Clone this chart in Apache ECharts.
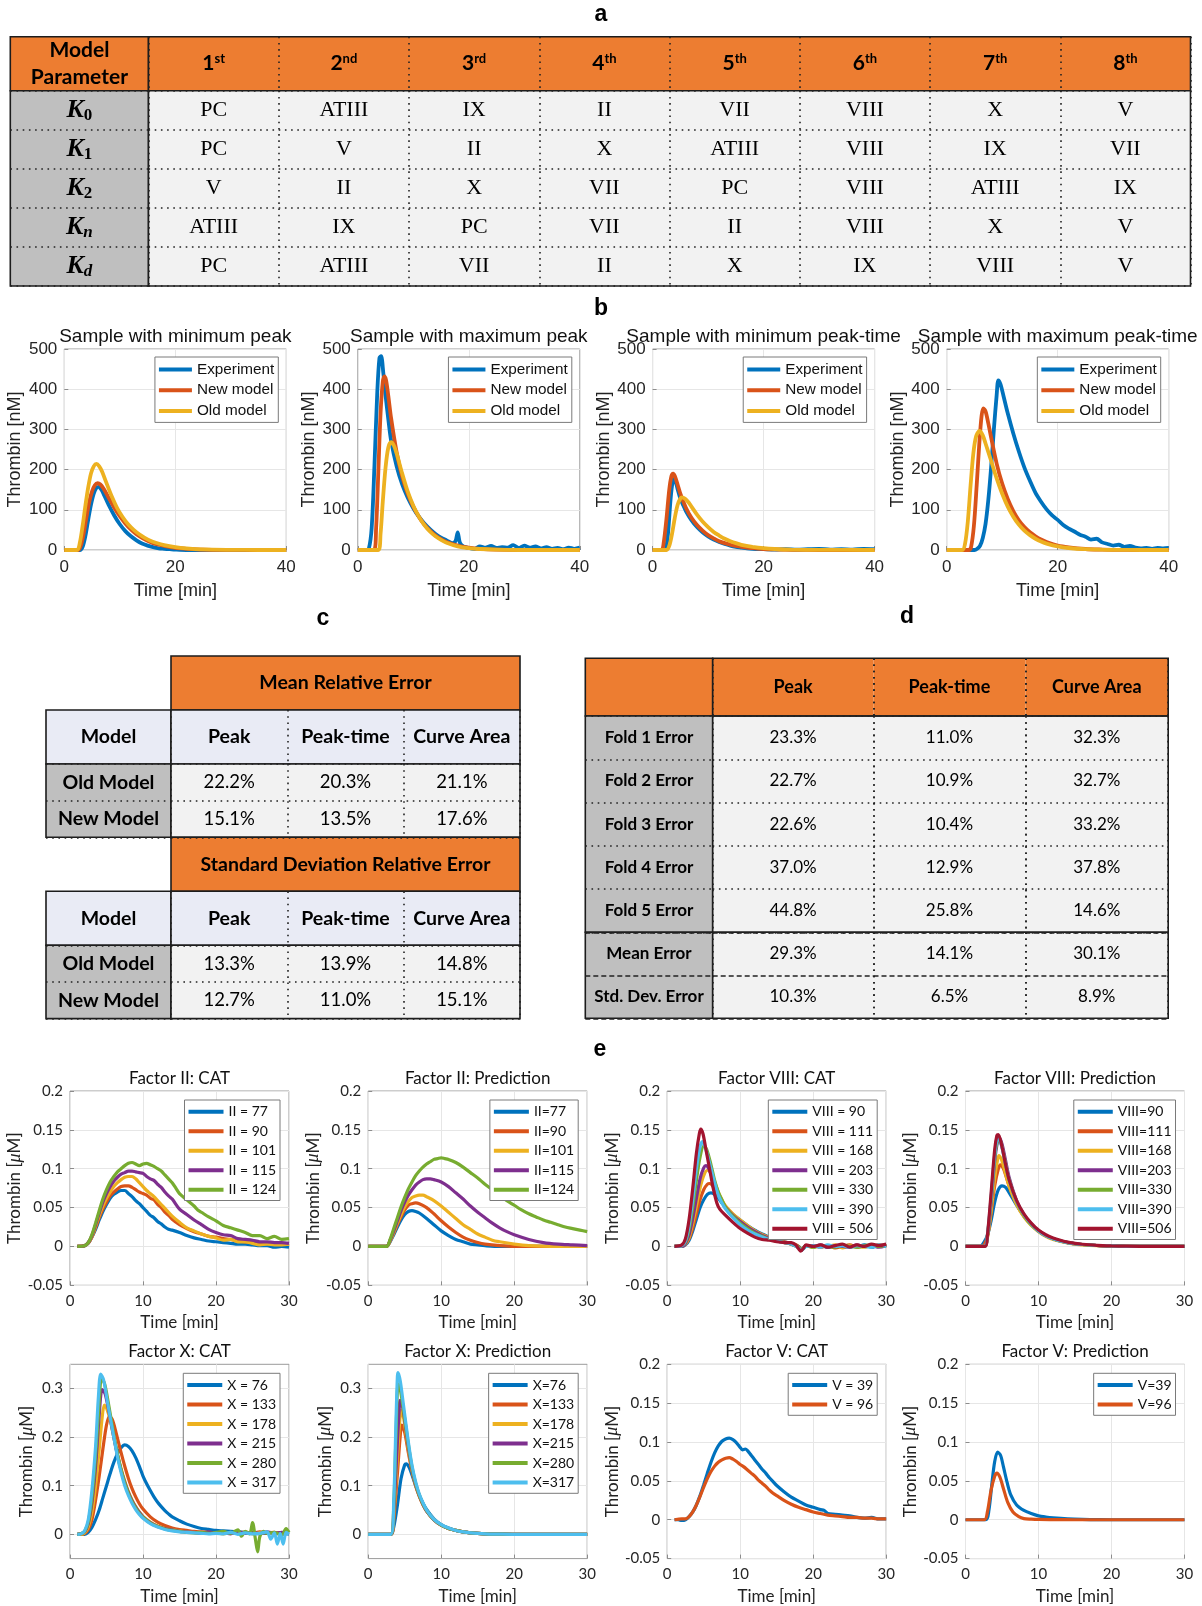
<!DOCTYPE html>
<html>
<head>
<meta charset="utf-8">
<title>Thrombin model figure</title>
<script src="https://cdn.jsdelivr.net/npm/echarts@6/dist/echarts.min.js"></script>
<style>
  html, body { margin: 0; padding: 0; background: #fff; }
  #main { width: 1202px; height: 1606px; }
</style>
</head>
<body>
<div id="main"></div>
<script>
// ---------- panel a : parameter ranking table ----------
var rankLabels = ['1st', '2nd', '3rd', '4th', '5th', '6th', '7th', '8th'];
var paramSubs = ['0', '1', '2', 'n', 'd'];
var orderK0 = ['PC', 'ATIII', 'IX', 'II', 'VII', 'VIII', 'X', 'V'];
var orderK1 = ['PC', 'V', 'II', 'X', 'ATIII', 'VIII', 'IX', 'VII'];
var orderK2 = ['V', 'II', 'X', 'VII', 'PC', 'VIII', 'ATIII', 'IX'];
var orderKn = ['ATIII', 'IX', 'PC', 'VII', 'II', 'VIII', 'X', 'V'];
var orderKd = ['PC', 'ATIII', 'VII', 'II', 'X', 'IX', 'VIII', 'V'];

// ---------- panel b : sample curves (time min, thrombin nM) ----------
var minPeakExp = [[0,0],[1,0],[2,0],[2.8,0],[3.3,8],[3.8,35],[4.3,75],[4.8,112],[5.3,140],[5.8,155],[6.2,157],[6.7,150],[7.2,136],[8,112],[9,86],[10,64],[11,47],[12,34],[13,24],[14,16],[15,11],[16,7],[17,4],[18,3],[19,2],[20,1],[22,0],[25,0],[30,0],[35,0],[40,0]];
var minPeakNew = [[0,0],[2.5,0],[3,12],[3.5,42],[4,82],[4.5,120],[5,146],[5.5,161],[6,166],[6.5,163],[7,154],[8,130],[9,105],[10,84],[11,66],[12,51],[13,39],[14,30],[15,23],[16,17],[17,13],[18,10],[20,5],[22,3],[25,1],[30,0.3],[35,0],[40,0]];
var minPeakOld = [[0,0],[2.3,0],[2.8,18],[3.3,60],[3.8,110],[4.3,155],[4.8,190],[5.3,208],[5.8,214],[6.3,208],[6.8,195],[7.5,170],[8.5,135],[9.5,105],[10.5,82],[11.5,64],[12.5,50],[13.5,39],[14.5,30],[15.5,23],[16.5,18],[18,12],[20,7],[22,4],[25,1.5],[30,0.4],[35,0],[40,0]];

var maxPeakExp = [[0,0],[1.5,0],[2,4],[2.5,55],[3,210],[3.5,390],[3.9,478],[4.2,482],[4.6,440],[5,385],[5.5,325],[6,272],[7,208],[8,163],[9,130],[10,104],[11,83],[12,66],[13,52],[14,40],[15,31],[16,24],[17,17],[17.6,22],[18,44],[18.4,18],[19,9],[20,5],[21,3],[22,9],[23,6],[24,10],[25,5],[26,7],[27,6],[28,12],[29,5],[30,11],[31,6],[32,9],[33,4],[34,7],[35,3],[36,5],[37,2],[38,6],[39,3],[40,6]];
var maxPeakNew = [[0,0],[2.9,0],[3.3,55],[3.7,195],[4.1,340],[4.5,418],[4.8,432],[5.1,422],[5.5,383],[6,328],[7,243],[8,182],[9,140],[10,108],[11,83],[12,63],[13,48],[14,36],[15,27],[16,20],[18,11],[20,6],[22,3],[25,1],[30,0],[40,0]];
var maxPeakOld = [[0,0],[3.7,0],[4.1,40],[4.5,120],[5,205],[5.5,255],[6,268],[6.5,260],[7,240],[8,190],[9,145],[10,110],[11,83],[12,62],[13,46],[14,34],[15,25],[16,18],[18,9],[20,4.5],[22,2.5],[25,1],[30,0],[40,0]];

var minTimeExp = [[0,0],[2,0],[2.4,3],[2.8,45],[3.2,120],[3.5,160],[3.8,178],[4.1,172],[4.5,152],[5,128],[5.5,112],[6,97],[7,74],[8,57],[9,44],[10,34],[11,26],[12,20],[13,15],[14,11],[15,8],[16,6],[17,4],[18,3],[20,2],[22,1],[24,2],[26,1],[28,2],[30,3],[32,1],[34,2],[36,1],[38,3],[40,2]];
var minTimeNew = [[0,0],[1.6,0],[2,18],[2.5,78],[3,150],[3.4,184],[3.7,190],[4,184],[4.5,163],[5,140],[6,105],[7,80],[8,62],[9,48],[10,37],[11,29],[12,22],[13,17],[14,13],[15,10],[16,8],[18,4.5],[20,2.5],[22,1.5],[25,0.5],[30,0],[40,0]];
var minTimeOld = [[0,0],[2.5,0],[3,10],[3.5,40],[4,80],[4.5,112],[5,128],[5.3,131],[5.8,128],[6.5,118],[7,108],[8,88],[9,71],[10,57],[11,45],[12,36],[13,28],[14,22],[15,17],[16,13],[18,8],[20,4.5],[22,2.5],[25,1],[30,0.3],[40,0]];

var maxTimeExp = [[0,0],[2,0],[4,0],[5,0],[5.5,3],[6,10],[6.5,30],[7,65],[7.5,125],[8,205],[8.5,300],[9,385],[9.3,422],[9.7,412],[10.2,385],[11,340],[12,290],[13,245],[14,205],[15,172],[16,142],[17,120],[18,101],[19,86],[20,75],[21,62],[22,53],[23,46],[24,38],[25,33],[26,26],[27,28],[28,19],[29,15],[30,11],[31,13],[32,8],[33,10],[34,6],[35,4],[36,5],[37,3],[38,5],[39,4],[40,5]];
var maxTimeNew = [[0,0],[4,0],[4.4,8],[4.9,60],[5.4,160],[5.9,270],[6.3,335],[6.6,352],[7,345],[7.5,315],[8,280],[9,215],[10,165],[11,127],[12,97],[13,74],[14,57],[15,44],[16,34],[17,26],[18,20],[20,11],[22,6.5],[25,2.5],[28,1],[30,0.5],[35,0],[40,0]];
var maxTimeOld = [[0,0],[2.8,0],[3.3,15],[3.8,70],[4.3,160],[4.8,240],[5.3,283],[5.9,296],[6.5,285],[7,265],[8,222],[9,178],[10,140],[11,108],[12,83],[13,63],[14,48],[15,37],[16,28],[17,21],[18,16],[20,9],[22,5],[25,2],[28,0.8],[30,0.4],[35,0],[40,0]];

// ---------- panel c : relative errors ----------
var metricNames = ['Peak', 'Peak-time', 'Curve Area'];
var modelNames = ['Old Model', 'New Model'];
var meanErrOld = [22.2, 20.3, 21.1];
var meanErrNew = [15.1, 13.5, 17.6];
var stdErrOld = [13.3, 13.9, 14.8];
var stdErrNew = [12.7, 11.0, 15.1];

// ---------- panel d : cross validation ----------
var foldNames = ['Fold 1 Error', 'Fold 2 Error', 'Fold 3 Error', 'Fold 4 Error', 'Fold 5 Error'];
var foldPeak = [23.3, 22.7, 22.6, 37.0, 44.8];
var foldPeakTime = [11.0, 10.9, 10.4, 12.9, 25.8];
var foldArea = [32.3, 32.7, 33.2, 37.8, 14.6];
var summaryNames = ['Mean Error', 'Std. Dev. Error'];
var summaryPeak = [29.3, 10.3];
var summaryPeakTime = [14.1, 6.5];
var summaryArea = [30.1, 8.9];

// ---------- panel e : factor variation (time min, thrombin uM) ----------
var f2Names = ['77', '90', '101', '115', '124'];
var f2Cat77 = [[1,0],[1.5,0],[2,0.001],[2.5,0.004],[3,0.012],[3.5,0.022],[4,0.034],[4.5,0.045],[5,0.054],[5.5,0.062],[6,0.067],[6.5,0.07],[7,0.072],[7.5,0.072],[8,0.068],[8.5,0.064],[9,0.059],[9.5,0.055],[10,0.05],[10.5,0.045],[11,0.04],[11.5,0.037],[12,0.032],[12.5,0.029],[13,0.025],[13.5,0.022],[14,0.021],[15,0.018],[16,0.014],[17,0.011],[18,0.009],[19,0.007],[20,0.006],[21,0.005],[22,0.004],[23,0.003],[24,0.003],[25,0.002],[26,0.001],[27,0.001],[28,-0.001],[29,0],[30,-0.001]];
var f2Cat90 = [[1,0],[2,0.001],[2.5,0.004],[3,0.012],[3.5,0.024],[4,0.037],[4.5,0.048],[5,0.057],[5.5,0.065],[6,0.07],[6.5,0.074],[7,0.077],[7.5,0.078],[8,0.078],[8.5,0.076],[9,0.073],[9.5,0.07],[10,0.068],[10.5,0.066],[11,0.062],[11.5,0.06],[12,0.054],[12.5,0.05],[13,0.044],[13.5,0.04],[14,0.035],[15,0.028],[16,0.023],[17,0.019],[18,0.016],[19,0.013],[20,0.012],[21,0.01],[22,0.009],[23,0.007],[24,0.006],[25,0.006],[26,0.004],[27,0.004],[28,0.003],[29,0.003],[30,0.004]];
var f2Cat101 = [[1,0],[2,0.001],[2.5,0.005],[3,0.013],[3.5,0.026],[4,0.04],[4.5,0.052],[5,0.062],[5.5,0.07],[6,0.077],[6.5,0.082],[7,0.086],[7.5,0.089],[8,0.09],[8.5,0.09],[9,0.087],[9.5,0.082],[10,0.077],[10.5,0.072],[11,0.068],[11.5,0.064],[12,0.059],[12.5,0.054],[13,0.049],[13.5,0.044],[14,0.039],[15,0.031],[16,0.024],[17,0.02],[18,0.016],[19,0.013],[20,0.011],[21,0.008],[22,0.009],[23,0.006],[24,0.006],[25,0.004],[26,0.002],[27,0.003],[28,0.002],[29,0.002],[30,0.003]];
var f2Cat115 = [[1,0],[2,0.001],[2.5,0.005],[3,0.014],[3.5,0.028],[4,0.043],[4.5,0.057],[5,0.068],[5.5,0.077],[6,0.084],[6.5,0.089],[7,0.093],[7.5,0.095],[8,0.097],[8.5,0.097],[9,0.096],[9.5,0.095],[10,0.094],[10.5,0.09],[11,0.087],[11.5,0.085],[12,0.08],[12.5,0.076],[13,0.07],[13.5,0.065],[14,0.061],[15,0.048],[16,0.041],[17,0.034],[18,0.028],[19,0.022],[20,0.018],[21,0.015],[22,0.014],[23,0.01],[24,0.009],[25,0.008],[26,0.006],[27,0.006],[28,0.005],[29,0.005],[30,0.004]];
var f2Cat124 = [[1,0],[2,0.001],[2.5,0.005],[3,0.015],[3.5,0.03],[4,0.046],[4.5,0.061],[5,0.073],[5.5,0.083],[6,0.09],[6.5,0.096],[7,0.1],[7.5,0.104],[8,0.107],[8.5,0.108],[9,0.106],[9.5,0.104],[10,0.106],[10.5,0.107],[11,0.105],[11.5,0.103],[12,0.1],[12.5,0.097],[13,0.092],[13.5,0.087],[14,0.082],[14.5,0.075],[15,0.068],[16,0.06],[17,0.052],[17.5,0.047],[18,0.044],[19,0.038],[20,0.033],[21,0.027],[22,0.024],[23,0.021],[24,0.018],[25,0.014],[26,0.014],[27,0.01],[28,0.013],[29,0.009],[30,0.01]];
var f2Pred77 = [[0,0],[2.5,0],[3,0.006],[3.5,0.015],[4,0.025],[4.5,0.034],[5,0.041],[5.5,0.045],[6,0.046],[6.5,0.045],[7,0.043],[8,0.036],[9,0.028],[10,0.02],[11,0.014],[12,0.009],[13,0.006],[14,0.003],[15,0.002],[16,0.001],[18,0],[20,0],[25,0],[30,0]];
var f2Pred90 = [[0,0],[2.5,0],[3,0.007],[3.5,0.017],[4,0.028],[4.5,0.038],[5,0.047],[5.5,0.053],[6,0.055],[6.5,0.056],[7,0.055],[8,0.05],[9,0.042],[10,0.033],[11,0.025],[12,0.018],[13,0.012],[14,0.008],[15,0.005],[16,0.003],[18,0.001],[20,0],[25,0],[30,0]];
var f2Pred101 = [[0,0],[2.5,0],[3,0.007],[3.5,0.018],[4,0.03],[4.5,0.041],[5,0.051],[5.5,0.058],[6,0.063],[6.5,0.065],[7,0.066],[7.5,0.066],[8,0.064],[9,0.059],[10,0.052],[11,0.044],[12,0.036],[13,0.028],[14,0.022],[15,0.016],[16,0.012],[17,0.008],[18,0.006],[20,0.003],[22,0.001],[25,0],[30,0]];
var f2Pred115 = [[0,0],[2.5,0],[3,0.008],[3.5,0.02],[4,0.033],[4.5,0.046],[5,0.057],[5.5,0.066],[6,0.073],[6.5,0.079],[7,0.083],[7.5,0.086],[8,0.087],[8.5,0.087],[9,0.086],[10,0.083],[11,0.077],[12,0.069],[13,0.061],[14,0.052],[15,0.044],[16,0.037],[17,0.03],[18,0.024],[19,0.019],[20,0.015],[22,0.009],[24,0.005],[26,0.003],[28,0.002],[30,0.001]];
var f2Pred124 = [[0,0],[2.5,0],[3,0.009],[3.5,0.023],[4,0.037],[4.5,0.051],[5,0.063],[5.5,0.074],[6,0.083],[6.5,0.091],[7,0.097],[7.5,0.102],[8,0.106],[8.5,0.109],[9,0.112],[9.5,0.113],[10,0.114],[10.5,0.113],[11,0.112],[12,0.108],[13,0.102],[14,0.095],[15,0.088],[16,0.08],[17,0.073],[18,0.066],[19,0.059],[20,0.053],[21,0.047],[22,0.042],[23,0.038],[24,0.034],[25,0.031],[26,0.028],[27,0.025],[28,0.023],[29,0.021],[30,0.019]];

var f8Names = ['90', '111', '168', '203', '330', '390', '506'];
var f8Cat90 = [[1,0],[2,0],[2.5,0.002],[3,0.008],[3.5,0.02],[4,0.035],[4.5,0.05],[5,0.06],[5.5,0.067],[6,0.069],[6.5,0.067],[7,0.062],[7.5,0.056],[8,0.05],[9,0.041],[10,0.034],[11,0.027],[12,0.021],[13,0.016],[14,0.012],[15,0.008],[16,0.006],[17,0.004],[17.5,0.002],[18,0],[18.4,-0.003],[19,0.001],[20,0],[21,0.001],[22,-0.001],[23,0.001],[24,-0.001],[25,0.001],[26,0],[27,0.002],[28,-0.001],[29,0.001],[30,0]];
var f8Cat111 = [[1,0],[2,0],[2.5,0.003],[3,0.01],[3.5,0.024],[4,0.042],[4.5,0.06],[5,0.073],[5.5,0.08],[5.8,0.081],[6.3,0.077],[7,0.066],[7.5,0.058],[8,0.051],[9,0.041],[10,0.033],[11,0.026],[12,0.02],[13,0.015],[14,0.011],[15,0.008],[16,0.006],[17,0.004],[17.5,0.003],[18,0],[18.4,-0.004],[19,0],[20,0.001],[21,-0.001],[22,0.001],[23,-0.002],[24,0],[25,0.002],[26,-0.001],[27,0.001],[28,0],[29,0.002],[30,0.001]];
var f8Cat168 = [[1,0],[2,0],[2.5,0.003],[3,0.012],[3.5,0.03],[4,0.052],[4.5,0.075],[5,0.091],[5.5,0.098],[5.8,0.097],[6.3,0.088],[7,0.07],[7.5,0.06],[8,0.052],[9,0.042],[10,0.034],[11,0.027],[12,0.02],[13,0.015],[14,0.011],[15,0.008],[16,0.005],[17,0.003],[18,-0.001],[18.4,-0.004],[19,0.001],[20,-0.001],[21,0.001],[22,0],[23,0.002],[24,-0.002],[25,0.001],[26,0],[27,-0.001],[28,0.001],[29,0],[30,0.002]];
var f8Cat203 = [[1,0],[2,0],[2.5,0.004],[3,0.015],[3.5,0.036],[4,0.062],[4.5,0.087],[5,0.101],[5.3,0.104],[5.7,0.1],[6.2,0.087],[7,0.068],[7.5,0.058],[8,0.05],[9,0.04],[10,0.032],[11,0.025],[12,0.019],[13,0.014],[14,0.01],[15,0.007],[16,0.005],[17,0.003],[18,-0.001],[18.4,-0.005],[19,0.001],[20,0],[21,0.002],[22,-0.001],[23,0.001],[24,0],[25,-0.001],[26,0.002],[27,0],[28,0.001],[29,-0.001],[30,0.001]];
var f8Cat330 = [[1,0],[2,0.001],[2.5,0.006],[3,0.022],[3.5,0.05],[4,0.085],[4.5,0.115],[5,0.129],[5.4,0.125],[6,0.105],[6.5,0.085],[7,0.07],[7.5,0.06],[8,0.05],[9,0.039],[10,0.03],[11,0.023],[12,0.017],[13,0.013],[14,0.009],[15,0.007],[16,0.005],[17,0.003],[18,-0.001],[18.4,-0.005],[19,0.001],[20,-0.001],[21,0.001],[22,0],[23,-0.001],[24,0.002],[25,0],[26,-0.001],[27,0.001],[28,0.002],[29,0],[30,0.001]];
var f8Cat390 = [[1,0],[2,0.001],[2.5,0.007],[3,0.027],[3.5,0.06],[4,0.1],[4.5,0.128],[4.8,0.135],[5.2,0.128],[6,0.1],[6.5,0.082],[7,0.066],[7.5,0.056],[8,0.048],[9,0.037],[10,0.028],[11,0.021],[12,0.016],[13,0.012],[14,0.009],[15,0.007],[16,0.005],[17,0.003],[18,-0.002],[18.4,-0.005],[19,0],[20,0.001],[21,-0.001],[22,0.002],[23,0],[24,0.001],[25,-0.001],[26,0.001],[27,0],[28,-0.001],[29,0.002],[30,0]];
var f8Cat506 = [[1,0],[2,0.002],[2.5,0.01],[3,0.035],[3.5,0.075],[4,0.12],[4.4,0.145],[4.6,0.151],[4.9,0.145],[5.3,0.125],[5.8,0.1],[6.3,0.075],[6.8,0.056],[7.2,0.048],[8,0.04],[9,0.031],[10,0.023],[11,0.017],[12,0.012],[13,0.009],[14,0.008],[15,0.006],[16,0.005],[17,0.005],[17.6,0.002],[18,-0.003],[18.3,-0.006],[18.7,-0.002],[19,0.002],[20,0],[21,0.002],[22,-0.001],[23,0.001],[24,0.003],[25,-0.001],[26,0.002],[27,0],[28,0.003],[29,0.001],[30,0.003]];
var f8Pred90 = [[0,0],[2,0],[2.5,0.005],[3,0.014],[3.5,0.033],[4,0.057],[4.5,0.073],[5,0.078],[5.5,0.076],[6,0.069],[7,0.053],[8,0.039],[9,0.028],[10,0.02],[11,0.014],[12,0.01],[13,0.007],[14,0.005],[15,0.0035],[16,0.0025],[18,0.0012],[20,0.0006],[22,0.0002],[25,0],[30,0]];
var f8Pred111 = [[0,0],[2.3,0],[2.7,0.005],[3,0.012],[3.5,0.042],[4,0.078],[4.5,0.1],[4.8,0.105],[5.2,0.1],[6,0.077],[7,0.055],[8,0.039],[9,0.028],[10,0.02],[11,0.014],[12,0.01],[13,0.007],[14,0.005],[15,0.0035],[16,0.0025],[18,0.0012],[20,0.0006],[22,0.0002],[25,0],[30,0]];
var f8Pred168 = [[0,0],[2.6,0],[3,0.011],[3.5,0.045],[4,0.088],[4.4,0.112],[4.6,0.117],[5,0.11],[5.5,0.093],[6,0.077],[7,0.054],[8,0.038],[9,0.027],[10,0.019],[11,0.013],[12,0.009],[13,0.0065],[14,0.0045],[15,0.003],[16,0.002],[18,0.001],[20,0.0005],[22,0.0002],[25,0],[30,0]];
var f8Pred203 = [[0,0],[2.6,0],[3,0.013],[3.5,0.055],[4,0.11],[4.4,0.136],[4.6,0.14],[5,0.132],[5.5,0.11],[6,0.088],[7,0.059],[8,0.041],[9,0.029],[10,0.02],[11,0.014],[12,0.01],[13,0.007],[14,0.005],[15,0.0035],[16,0.0025],[18,0.0012],[20,0.0006],[22,0.0002],[25,0],[30,0]];
var f8Pred330 = [[0,0],[2.6,0],[3,0.014],[3.5,0.06],[4,0.115],[4.4,0.138],[4.6,0.139],[5,0.128],[5.5,0.106],[6,0.085],[7,0.058],[8,0.04],[9,0.028],[10,0.02],[11,0.014],[12,0.01],[13,0.007],[14,0.005],[15,0.0035],[16,0.0025],[18,0.0012],[20,0.0006],[22,0.0002],[25,0],[30,0]];
var f8Pred390 = [[0,0],[2.6,0],[3,0.015],[3.5,0.063],[4,0.118],[4.3,0.137],[4.5,0.14],[5,0.127],[5.5,0.105],[6,0.085],[7,0.058],[8,0.041],[9,0.029],[10,0.02],[11,0.014],[12,0.01],[13,0.007],[14,0.005],[15,0.0035],[16,0.0025],[18,0.0012],[20,0.0006],[22,0.0002],[25,0],[30,0]];
var f8Pred506 = [[0,0],[2.7,0],[3,0.014],[3.5,0.068],[4,0.125],[4.3,0.143],[4.5,0.144],[5,0.128],[5.5,0.105],[6,0.085],[7,0.059],[8,0.042],[9,0.03],[10,0.021],[11,0.015],[12,0.011],[13,0.008],[14,0.0055],[15,0.004],[16,0.0028],[18,0.0014],[20,0.0007],[22,0.0003],[25,0],[30,0]];

var f10Names = ['76', '133', '178', '215', '280', '317'];
var f10Cat76 = [[1,0],[1.5,0],[2,0],[2.5,0.004],[3,0.014],[3.5,0.03],[4,0.05],[4.5,0.075],[5,0.1],[5.5,0.125],[6,0.148],[6.5,0.166],[7,0.178],[7.5,0.184],[8,0.181],[8.5,0.172],[9,0.158],[9.5,0.14],[10,0.12],[10.5,0.104],[11,0.09],[11.5,0.077],[12,0.066],[12.5,0.057],[13,0.049],[13.5,0.042],[14,0.036],[15,0.028],[16,0.021],[17,0.016],[18,0.012],[19,0.01],[20,0.008],[21,0.007],[22,0.006],[23,0.005],[24,0.004],[25,0.003],[26,0.003],[27,0.002],[28,0.002],[29,0.001],[30,0.001]];
var f10Cat133 = [[1,0],[1.5,0],[2,0.002],[2.5,0.01],[3,0.03],[3.5,0.07],[4,0.12],[4.5,0.175],[5,0.225],[5.4,0.243],[5.8,0.236],[6.3,0.21],[7,0.168],[7.5,0.14],[8,0.115],[8.5,0.094],[9,0.077],[9.5,0.063],[10,0.052],[11,0.036],[12,0.025],[13,0.018],[14,0.013],[15,0.01],[16,0.008],[17,0.006],[18,0.005],[19,0.004],[20,0.003],[21,0.004],[22,0.002],[23,0.004],[24,0.003],[25,0.002],[26,0.005],[27,0.003],[28,0.004],[29,0.002],[30,0.003]];
var f10Cat178 = [[1,0],[1.5,0],[2,0.003],[2.5,0.015],[3,0.045],[3.5,0.1],[4,0.175],[4.4,0.24],[4.7,0.266],[5,0.26],[5.5,0.235],[6,0.2],[6.5,0.165],[7,0.135],[7.5,0.11],[8,0.088],[8.5,0.071],[9,0.057],[9.5,0.046],[10,0.037],[11,0.025],[12,0.017],[13,0.012],[14,0.009],[15,0.007],[16,0.005],[17,0.004],[18,0.002],[19,0.004],[20,0.003],[21,0.001],[22,0.004],[23,0.002],[24,0.005],[25,0.001],[26,0.003],[27,0.004],[28,0.001],[29,0.003],[30,0.002]];
var f10Cat215 = [[1,0],[1.5,0.001],[2,0.005],[2.5,0.022],[3,0.065],[3.5,0.14],[4,0.245],[4.4,0.298],[4.8,0.29],[5.3,0.255],[6,0.2],[6.5,0.163],[7,0.132],[7.5,0.107],[8,0.086],[8.5,0.069],[9,0.056],[9.5,0.045],[10,0.036],[11,0.024],[12,0.016],[13,0.012],[14,0.009],[15,0.006],[16,0.005],[17,0.004],[18,0.002],[19,0.005],[20,0.002],[21,0.004],[22,0.001],[23,0.005],[24,0.002],[25,0.004],[26,0.001],[27,0.005],[28,0.002],[29,0.004],[30,0.002]];
var f10Cat280 = [[1,0],[1.5,0.001],[2,0.006],[2.5,0.025],[3,0.075],[3.5,0.16],[4,0.27],[4.3,0.32],[4.7,0.312],[5.2,0.275],[6,0.205],[6.5,0.165],[7,0.132],[7.5,0.105],[8,0.084],[8.5,0.067],[9,0.054],[9.5,0.043],[10,0.035],[11,0.023],[12,0.016],[13,0.011],[14,0.008],[15,0.006],[16,0.004],[17,0.003],[18,0.004],[19,0.002],[20,0.004],[21,0.006],[22,0.002],[23,0.009],[23.5,-0.004],[24,0.006],[24.6,0.001],[25,0.024],[25.4,-0.01],[25.7,-0.036],[26,-0.005],[26.5,0.006],[27,0.002],[28,0.004],[29,-0.002],[29.6,0.012],[30,0.004]];
var f10Cat317 = [[1,0],[1.5,0.001],[2,0.007],[2.5,0.03],[3,0.09],[3.5,0.18],[3.9,0.285],[4.2,0.33],[4.6,0.318],[5.1,0.275],[6,0.2],[6.5,0.16],[7,0.127],[7.5,0.1],[8,0.08],[8.5,0.064],[9,0.051],[9.5,0.041],[10,0.033],[11,0.022],[12,0.015],[13,0.01],[14,0.007],[15,0.005],[16,0.004],[17,0.003],[18,0.002],[19,0.001],[20,0.002],[21,0.001],[22,0.004],[23,0],[24,0.003],[25,0.001],[26,0.002],[27,0.005],[27.5,-0.01],[28,0.003],[28.4,-0.02],[28.8,0.002],[29.2,-0.02],[29.6,0.004],[30,0]];
var f10Pred76 = [[0,0],[3.1,0],[3.5,0.015],[4,0.06],[4.5,0.115],[5,0.143],[5.2,0.145],[5.6,0.138],[6,0.122],[6.5,0.1],[7,0.08],[7.5,0.064],[8,0.051],[9,0.032],[10,0.02],[11,0.013],[12,0.008],[13,0.005],[14,0.003],[16,0.001],[18,0.0004],[20,0],[25,0],[30,0]];
var f10Pred133 = [[0,0],[3.1,0],[3.5,0.03],[4,0.125],[4.4,0.205],[4.6,0.225],[5,0.21],[5.5,0.168],[6,0.13],[6.5,0.1],[7,0.078],[7.5,0.061],[8,0.048],[9,0.03],[10,0.019],[11,0.012],[12,0.008],[13,0.005],[14,0.003],[16,0.001],[18,0.0004],[20,0],[25,0],[30,0]];
var f10Pred178 = [[0,0],[3.1,0],[3.5,0.04],[4,0.16],[4.4,0.25],[4.5,0.255],[4.9,0.235],[5.5,0.175],[6,0.133],[6.5,0.102],[7,0.079],[7.5,0.062],[8,0.048],[9,0.03],[10,0.019],[11,0.012],[12,0.008],[13,0.005],[14,0.003],[16,0.001],[18,0.0004],[20,0],[25,0],[30,0]];
var f10Pred215 = [[0,0],[3.1,0],[3.5,0.05],[4,0.19],[4.3,0.27],[4.4,0.276],[4.8,0.255],[5.5,0.18],[6,0.135],[6.5,0.103],[7,0.08],[7.5,0.062],[8,0.048],[9,0.03],[10,0.019],[11,0.012],[12,0.008],[13,0.005],[14,0.003],[16,0.001],[18,0.0004],[20,0],[25,0],[30,0]];
var f10Pred280 = [[0,0],[3.1,0],[3.5,0.06],[3.8,0.2],[4.1,0.31],[4.3,0.305],[4.7,0.27],[5.5,0.185],[6,0.138],[6.5,0.105],[7,0.081],[7.5,0.063],[8,0.049],[9,0.03],[10,0.019],[11,0.012],[12,0.008],[13,0.005],[14,0.003],[16,0.001],[18,0.0004],[20,0],[25,0],[30,0]];
var f10Pred317 = [[0,0],[3.1,0],[3.5,0.07],[3.8,0.23],[4,0.325],[4.1,0.333],[4.4,0.315],[4.8,0.27],[5.5,0.19],[6,0.142],[6.5,0.108],[7,0.083],[7.5,0.065],[8,0.05],[9,0.031],[10,0.02],[11,0.013],[12,0.008],[13,0.005],[14,0.003],[16,0.001],[18,0.0004],[20,0],[25,0],[30,0]];

var f5Names = ['39', '96'];
var f5Cat39 = [[1,0],[1.5,0],[2,-0.001],[2.5,0],[3,0.004],[3.5,0.01],[4,0.019],[4.5,0.031],[5,0.045],[5.5,0.06],[6,0.074],[6.5,0.086],[7,0.095],[7.5,0.101],[8,0.104],[8.5,0.105],[9,0.103],[9.5,0.099],[10,0.093],[10.3,0.09],[10.7,0.091],[11,0.089],[11.5,0.083],[12,0.077],[12.5,0.071],[13,0.065],[13.5,0.06],[14,0.054],[14.5,0.049],[15,0.044],[16,0.036],[17,0.029],[18,0.024],[19,0.019],[20,0.016],[21,0.013],[21.5,0.012],[22,0.008],[23,0.007],[24,0.006],[25,0.005],[26,0.003],[27,0.002],[28,0.003],[29,0.001],[30,0.001]];
var f5Cat96 = [[1,0],[2,0.001],[2.5,0.001],[3,0.004],[3.5,0.01],[4,0.019],[4.5,0.03],[5,0.042],[5.5,0.053],[6,0.062],[6.5,0.069],[7,0.074],[7.5,0.077],[8,0.079],[8.5,0.08],[9,0.078],[9.5,0.075],[10,0.071],[10.5,0.068],[11,0.064],[11.5,0.06],[12,0.056],[12.5,0.051],[13,0.047],[13.5,0.043],[14,0.038],[14.5,0.034],[15,0.031],[16,0.025],[17,0.02],[18,0.016],[19,0.013],[20,0.01],[21,0.008],[22,0.006],[23,0.005],[24,0.004],[25,0.003],[26,0.003],[27,0.002],[28,0.002],[29,0.001],[30,0.001]];
var f5Pred39 = [[0,0],[2.8,0],[3.2,0.012],[3.6,0.045],[4,0.075],[4.4,0.087],[4.8,0.083],[5.2,0.068],[5.7,0.048],[6.2,0.032],[7,0.019],[8,0.012],[9,0.008],[10,0.005],[11,0.0035],[12,0.0025],[14,0.0012],[16,0.0005],[18,0.0002],[20,0],[25,0],[30,0]];
var f5Pred96 = [[0,0],[2.6,0],[3,0.01],[3.5,0.038],[4,0.056],[4.3,0.06],[4.7,0.055],[5.2,0.04],[5.8,0.022],[6.5,0.01],[7.3,0.004],[8,0.0015],[9,0.0008],[10,0.0004],[12,0.0002],[15,0],[20,0],[25,0],[30,0]];

// ---------- build ----------
var W = 1202;
var lineColors = ['#0072BD', '#D95319', '#EDB120', '#7E2F8E', '#77AC30', '#4DBEEE', '#A2142F'];
var grids = [], xAxes = [], yAxes = [], allSeries = [], legends = [], titles = [];

function addText(text, cx, top, style) {
  titles.push({ text: text, left: cx, top: top, textAlign: 'center', padding: 0, textStyle: style });
}

function lineChart(c) {
  var i = grids.length;
  var font = c.font;
  grids.push({ left: c.left, top: c.top, width: c.width, height: c.height, show: true,
    borderColor: '#9a9a9a', borderWidth: 1, backgroundColor: '#fff', outerBoundsMode: 'none' });
  xAxes.push({ type: 'value', gridIndex: i, min: 0, max: c.xMax, interval: c.xStep,
    name: 'Time [min]', nameLocation: 'middle', nameGap: c.xNameGap,
    nameTextStyle: { fontFamily: font, fontSize: c.nameSize, color: '#222' },
    axisLine: { show: false, onZero: false },
    axisTick: { inside: true, length: 4, lineStyle: { color: '#8c8c8c' } },
    axisLabel: { margin: c.xLabelMargin, color: '#262626', fontFamily: font, fontSize: c.tickSize },
    splitLine: { show: true, lineStyle: { color: '#e6e6e6' } } });
  var yLabel = { margin: 7, color: '#262626', fontFamily: font, fontSize: c.tickSize };
  var yTick = { inside: true, length: 4, lineStyle: { color: '#8c8c8c' } };
  if (c.yTicks) {
    yLabel.customValues = c.yTicks;
    yLabel.formatter = function (v) {
      return Math.abs(Math.round(v * 100)) % 10 === 0 ? String(Math.round(v * 10) / 10) : '';
    };
    yTick.customValues = c.yTicks;
  }
  yAxes.push({ type: 'value', gridIndex: i, min: c.yMin, max: c.yMax, interval: c.yStep,
    name: c.yName, nameLocation: 'middle', nameGap: c.yNameGap,
    nameTextStyle: { fontFamily: font, fontSize: c.nameSize, color: '#222',
      rich: { mu: { fontFamily: 'Liberation Serif', fontStyle: 'italic', fontSize: c.nameSize + 1, color: '#222' } } },
    axisLine: { show: false, onZero: false },
    axisTick: yTick, axisLabel: yLabel,
    splitLine: { show: true, lineStyle: { color: '#e6e6e6' } } });
  c.lines.forEach(function (d, k) {
    allSeries.push({ type: 'line', name: c.names[k], data: d, xAxisIndex: i, yAxisIndex: i,
      showSymbol: false, symbol: 'none', smooth: 0.3, clip: true,
      lineStyle: { width: c.lineWidth, color: lineColors[k] },
      itemStyle: { color: lineColors[k] }, emphasis: { disabled: true } });
  });
  legends.push({ data: c.names, orient: 'vertical', icon: 'rect', itemWidth: c.legendLine, itemHeight: 4,
    itemGap: 4, right: W - (c.left + c.width) + c.legendInset, top: c.top + c.legendInset,
    backgroundColor: '#fff', borderColor: '#7a7a7a', borderWidth: 1, borderRadius: 0,
    padding: [4, 4, 3, 4], selectedMode: false,
    textStyle: { fontFamily: font, fontSize: c.legendSize, lineHeight: c.legendSize + 1.5, color: '#111' } });
  addText(c.title, c.left + c.width / 2, c.titleTop, { fontFamily: font, fontSize: c.titleSize, fontWeight: 'normal', color: '#111' });
}

// one table block = one grid whose category axes give the cells; split lines draw the inner rules
function tableBlock(c) {
  var i = grids.length;
  var cols = [], rows = [];
  for (var a = 0; a < c.cols; a++) cols.push('c' + a);
  for (var b = 0; b < c.rows; b++) rows.push('r' + b);
  grids.push({ left: c.left, top: c.top, width: c.width, height: c.height, show: true,
    backgroundColor: c.bg, borderColor: '#1c1c1c', borderWidth: c.frame === false ? 0 : 1.6, outerBoundsMode: 'none' });
  xAxes.push({ type: 'category', gridIndex: i, data: cols,
    axisLine: { show: false }, axisTick: { show: false }, axisLabel: { show: false },
    splitLine: { show: !!c.vDash, interval: 0, lineStyle: { color: '#222', width: 1.6, type: c.vDash || 'solid' } } });
  yAxes.push({ type: 'category', gridIndex: i, data: rows, inverse: true,
    axisLine: { show: false }, axisTick: { show: false }, axisLabel: { show: false },
    splitLine: { show: !!c.hDash, interval: 0, lineStyle: { color: '#222', width: 1.6, type: c.hDash || 'solid' } } });
  if (!c.texts || !c.texts.length) return;
  var cells = c.texts.map(function (t, k) { return [k % c.cols, Math.floor(k / c.cols)]; });
  allSeries.push({ type: 'custom', xAxisIndex: i, yAxisIndex: i, data: cells, silent: true, z: 5,
    renderItem: function (params, api) {
      var p = api.coord([api.value(0), api.value(1)]);
      return { type: 'text', x: p[0], y: p[1],
        style: { text: c.texts[params.dataIndex], align: 'center', verticalAlign: 'middle',
          fill: '#000', font: c.font, lineHeight: c.lineHeight, rich: c.rich } };
    } });
}

var DOT = [1.6, 4.6];
var DASH = [5, 3];
var ORANGE = '#ED7D31', GREY = '#BFBFBF', LIGHT = '#F2F2F2', LAVENDER = '#E9EBF5';
var pct = function (v) { return v.toFixed(1) + '%'; };

// ----- panel labels -----
var panelFont = { fontFamily: 'Liberation Sans', fontSize: 23, fontWeight: 'bold', color: '#000' };
addText('a', 601, 3, panelFont);
addText('b', 601, 297, panelFont);
addText('c', 323, 607, panelFont);
addText('d', 907, 605, panelFont);
addText('e', 600, 1038, panelFont);

// ----- table a -----
tableBlock({ left: 10.3, top: 36.7, width: 138.2, height: 54, cols: 1, rows: 1, bg: ORANGE,
  texts: ['Model\nParameter'], font: 'bold 21px Lato', lineHeight: 27 });
tableBlock({ left: 148.5, top: 36.7, width: 1042, height: 54, cols: 8, rows: 1, bg: ORANGE, vDash: DOT,
  texts: rankLabels.map(function (r) { var m = r.match(/^(\d+)(\D+)$/); return '{n|' + m[1] + '}{s|' + m[2] + '}'; }),
  font: 'bold 20px Lato',
  rich: { n: { fontFamily: 'Lato', fontWeight: 'bold', fontSize: 21, lineHeight: 23 },
          s: { fontFamily: 'Lato', fontWeight: 'bold', fontSize: 13, lineHeight: 13, verticalAlign: 'top' } } });
tableBlock({ left: 10.3, top: 90.7, width: 138.2, height: 195.3, cols: 1, rows: 5, bg: GREY, hDash: DOT,
  texts: paramSubs.map(function (s) { return '{k|K}{' + (/\d/.test(s) ? 'sd' : 'si') + '|' + s + '}'; }),
  font: 'bold italic 25px "Liberation Serif"',
  rich: { k: { fontFamily: 'Liberation Serif', fontWeight: 'bold', fontStyle: 'italic', fontSize: 26, lineHeight: 27 },
          sd: { fontFamily: 'Liberation Serif', fontWeight: 'bold', fontSize: 17, lineHeight: 15, verticalAlign: 'bottom' },
          si: { fontFamily: 'Liberation Serif', fontWeight: 'bold', fontStyle: 'italic', fontSize: 17, lineHeight: 15, verticalAlign: 'bottom' } } });
tableBlock({ left: 148.5, top: 90.7, width: 1042, height: 195.3, cols: 8, rows: 5, bg: LIGHT, vDash: DOT, hDash: DOT,
  texts: [].concat(orderK0, orderK1, orderK2, orderKn, orderKd), font: '22px "Liberation Serif"' });

// ----- table c -----
function errorBlock(top, heading, oldVals, newVals) {
  tableBlock({ left: 171, top: top, width: 349, height: 54, cols: 1, rows: 1, bg: ORANGE,
    texts: [heading], font: 'bold 19.5px Lato' });
  tableBlock({ left: 46, top: top + 54, width: 125, height: 54, cols: 1, rows: 1, bg: LAVENDER,
    texts: ['Model'], font: 'bold 19.5px Lato' });
  tableBlock({ left: 171, top: top + 54, width: 349, height: 54, cols: 3, rows: 1, bg: LAVENDER, vDash: DOT,
    texts: metricNames, font: 'bold 19.5px Lato' });
  tableBlock({ left: 46, top: top + 108, width: 125, height: 73.3, cols: 1, rows: 2, bg: GREY, hDash: DOT,
    texts: modelNames, font: 'bold 19.5px Lato' });
  tableBlock({ left: 171, top: top + 108, width: 349, height: 73.3, cols: 3, rows: 2, bg: LIGHT, vDash: DOT, hDash: DOT,
    texts: oldVals.concat(newVals).map(pct), font: '18.5px Lato' });
}
errorBlock(656, 'Mean Relative Error', meanErrOld, meanErrNew);
errorBlock(837.3, 'Standard Deviation Relative Error', stdErrOld, stdErrNew);

// ----- table d -----
var foldCols = [foldPeak, foldPeakTime, foldArea];
var sumCols = [summaryPeak, summaryPeakTime, summaryArea];
var dColBox = [{ left: 712.7, width: 160.8 }, { left: 873.5, width: 151.9 }, { left: 1025.4, width: 142.8 }];
tableBlock({ left: 585.3, top: 658.3, width: 127.4, height: 57.7, cols: 1, rows: 1, bg: ORANGE, texts: [] });
tableBlock({ left: 585.3, top: 716, width: 127.4, height: 216.3, cols: 1, rows: 5, bg: GREY, hDash: DOT,
  texts: foldNames, font: 'bold 17px Lato' });
tableBlock({ left: 585.3, top: 932.3, width: 127.4, height: 86, cols: 1, rows: 2, bg: GREY, hDash: DASH,
  texts: summaryNames, font: 'bold 17px Lato' });
dColBox.forEach(function (col, k) {
  tableBlock({ left: col.left, top: 658.3, width: col.width, height: 57.7, cols: 1, rows: 1, bg: ORANGE,
    vDash: DOT, frame: false, texts: [metricNames[k]], font: 'bold 18px Lato' });
  tableBlock({ left: col.left, top: 716, width: col.width, height: 216.3, cols: 1, rows: 5, bg: LIGHT,
    vDash: DOT, hDash: DOT, frame: false, texts: foldCols[k].map(pct), font: '17px Lato' });
  tableBlock({ left: col.left, top: 932.3, width: col.width, height: 86, cols: 1, rows: 2, bg: LIGHT,
    vDash: DOT, hDash: DASH, frame: false, texts: sumCols[k].map(pct), font: '17px Lato' });
});
// solid frames round the three row groups of the value columns
tableBlock({ left: 712.7, top: 658.3, width: 455.5, height: 57.7, cols: 1, rows: 1, bg: 'transparent', texts: [] });
tableBlock({ left: 712.7, top: 716, width: 455.5, height: 216.3, cols: 1, rows: 1, bg: 'transparent', texts: [] });
tableBlock({ left: 712.7, top: 932.3, width: 455.5, height: 86, cols: 1, rows: 1, bg: 'transparent', texts: [] });

// ----- panel b -----
var bNames = ['Experiment', 'New model', 'Old model'];
var bCommon = { top: 349, width: 222, height: 201, xMax: 40, xStep: 20, yMin: 0, yMax: 500, yStep: 100,
  yName: 'Thrombin [nM]', yNameGap: 40, xNameGap: 32, xLabelMargin: 9, font: 'Liberation Sans',
  tickSize: 17, nameSize: 18, titleSize: 19, titleTop: 327, legendSize: 15.3, legendInset: 8,
  legendLine: 33, lineWidth: 3.8, names: bNames };
[
  { left: 64.3, title: 'Sample with minimum peak', lines: [minPeakExp, minPeakNew, minPeakOld] },
  { left: 357.8, title: 'Sample with maximum peak', lines: [maxPeakExp, maxPeakNew, maxPeakOld] },
  { left: 652.6, title: 'Sample with minimum peak-time', lines: [minTimeExp, minTimeNew, minTimeOld] },
  { left: 946.7, title: 'Sample with maximum peak-time', lines: [maxTimeExp, maxTimeNew, maxTimeOld] }
].forEach(function (p) { lineChart(Object.assign({}, bCommon, p)); });

// ----- panel e -----
function labelNames(prefix, vals, spaced) {
  return vals.map(function (v) { return spaced ? prefix + ' = ' + v : prefix + '=' + v; });
}
var eCommon = { width: 219, height: 194.3, xMax: 30, xStep: 10, yMin: -0.05, yMax: 0.2, yStep: 0.05,
  yName: 'Thrombin [{mu|\u03bc}M]', yNameGap: 46, xNameGap: 29, xLabelMargin: 8, font: 'Lato',
  tickSize: 15, nameSize: 17, titleSize: 17, legendSize: 14, legendInset: 9, legendLine: 35, lineWidth: 3.2 };
var eRow1 = { top: 1091, titleTop: 1070 };
var eRow2 = { top: 1364.3, titleTop: 1343 };
var factorX = { yMin: -0.05, yMax: 0.35, yStep: 0.05, yTicks: [0, 0.1, 0.2, 0.3], yNameGap: 34 };
[
  Object.assign({}, eRow1, { left: 70, title: 'Factor II: CAT', names: labelNames('II', f2Names, true),
    lines: [f2Cat77, f2Cat90, f2Cat101, f2Cat115, f2Cat124] }),
  Object.assign({}, eRow1, { left: 368.2, title: 'Factor II: Prediction', names: labelNames('II', f2Names, false),
    lines: [f2Pred77, f2Pred90, f2Pred101, f2Pred115, f2Pred124] }),
  Object.assign({}, eRow1, { left: 667.2, title: 'Factor VIII: CAT', names: labelNames('VIII', f8Names, true),
    lines: [f8Cat90, f8Cat111, f8Cat168, f8Cat203, f8Cat330, f8Cat390, f8Cat506] }),
  Object.assign({}, eRow1, { left: 965.5, title: 'Factor VIII: Prediction', names: labelNames('VIII', f8Names, false),
    lines: [f8Pred90, f8Pred111, f8Pred168, f8Pred203, f8Pred330, f8Pred390, f8Pred506] }),
  Object.assign({}, eRow2, factorX, { left: 70, title: 'Factor X: CAT', names: labelNames('X', f10Names, true),
    lines: [f10Cat76, f10Cat133, f10Cat178, f10Cat215, f10Cat280, f10Cat317] }),
  Object.assign({}, eRow2, factorX, { left: 368.2, title: 'Factor X: Prediction', names: labelNames('X', f10Names, false),
    lines: [f10Pred76, f10Pred133, f10Pred178, f10Pred215, f10Pred280, f10Pred317] }),
  Object.assign({}, eRow2, { left: 667.2, title: 'Factor V: CAT', names: labelNames('V', f5Names, true),
    lines: [f5Cat39, f5Cat96] }),
  Object.assign({}, eRow2, { left: 965.5, title: 'Factor V: Prediction', names: labelNames('V', f5Names, false),
    lines: [f5Pred39, f5Pred96] })
].forEach(function (p) { lineChart(Object.assign({}, eCommon, p)); });

var chart = echarts.init(document.getElementById('main'), null, { renderer: 'canvas' });
chart.setOption({
  animation: false,
  backgroundColor: '#fff',
  title: titles,
  legend: legends,
  grid: grids,
  xAxis: xAxes,
  yAxis: yAxes,
  series: allSeries
});
</script>
</body>
</html>
